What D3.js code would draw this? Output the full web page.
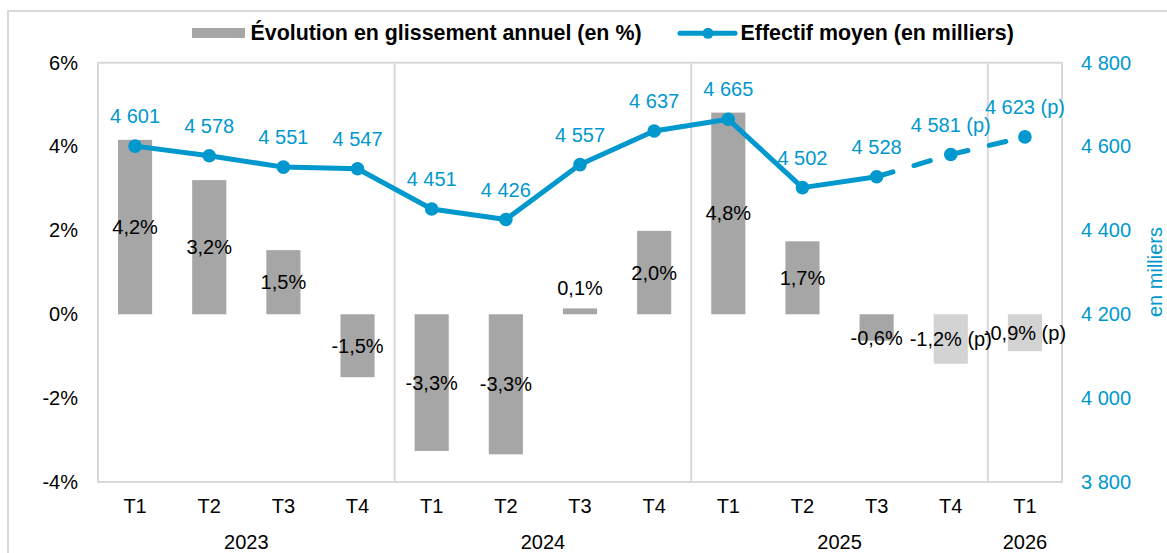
<!DOCTYPE html>
<html>
<head>
<meta charset="utf-8">
<script src="https://cdn.jsdelivr.net/npm/d3@7"></script>
<style>
  html, body { margin: 0; padding: 0; background: #fff; }
  svg { display: block; font-family: "Liberation Sans", Arial, sans-serif; }
</style>
</head>
<body>
<svg id="chart" width="1167" height="553"></svg>
<script>
// ---- Data ----
const quarters = ["T1","T2","T3","T4","T1","T2","T3","T4","T1","T2","T3","T4","T1"];
const years = ["2023","2024","2025","2026"];
const yearSpans = [4, 4, 4, 1];
const evolution = [4.16, 3.20, 1.53, -1.50, -3.26, -3.34, 0.14, 1.99, 4.81, 1.74, -0.63, -1.18, -0.88];
const effectif = [4601, 4578, 4551, 4547, 4451, 4426, 4557, 4637, 4665, 4502, 4528, 4581, 4623];
const provisional = [false,false,false,false,false,false,false,false,false,false,false,true,true];
const leftTicks = [-4, -2, 0, 2, 4, 6];
const rightTicks = [3800, 4000, 4200, 4400, 4600, 4800];
const legendLabels = ["Évolution en glissement annuel (en %)", "Effectif moyen (en milliers)"];
const rightAxisTitle = "en milliers";

// ---- Styles ----
const BLUE = "#0098cd";
const BAR = "#a6a6a6";
const BAR_P = "#d3d3d3";
const GRID = "#d9d9d9";
const FS = 20;

const svg = d3.select("#chart");
const M = { left: 98, right: 1062, top: 62.7, bottom: 482 };

const fr = d3.formatLocale({ decimal: ",", thousands: " ", grouping: [3], currency: ["", " €"], minus: "-" });
const fmtThousands = fr.format(",d");
const fmtPct = v => fr.format(".1f")(v) + "%";

const idx = quarters.map((d, i) => i);
const x = d3.scaleBand().domain(idx).range([M.left, M.right]).padding(0);
const barW = x.bandwidth() * 0.46;
const cx = i => x(i) + x.bandwidth() / 2;
const yL = d3.scaleLinear().domain([-4, 6]).range([M.bottom, M.top]);
const yR = d3.scaleLinear().domain([3800, 4800]).range([M.bottom, M.top]);

// outer frame
svg.append("rect").attr("x", 8).attr("y", 11).attr("width", 1300).attr("height", 700)
  .attr("fill", "none").attr("stroke", GRID).attr("stroke-width", 2);

// plot frame
svg.append("rect").attr("x", M.left).attr("y", M.top)
  .attr("width", M.right - M.left).attr("height", M.bottom - M.top)
  .attr("fill", "none").attr("stroke", GRID).attr("stroke-width", 2);

// year separators
let acc = 0;
yearSpans.forEach((s, k) => {
  acc += s;
  if (k < yearSpans.length - 1) {
    const xs = x(acc);
    svg.append("line").attr("x1", xs).attr("x2", xs).attr("y1", M.top).attr("y2", M.bottom)
      .attr("stroke", GRID).attr("stroke-width", 2);
  }
});

// bars
svg.append("g").selectAll("rect").data(evolution).join("rect")
  .attr("x", (d, i) => cx(i) - barW / 2)
  .attr("width", barW)
  .attr("y", d => yL(Math.max(0, d)))
  .attr("height", d => Math.abs(yL(d) - yL(0)))
  .attr("fill", (d, i) => provisional[i] ? BAR_P : BAR);

// bar labels
svg.append("g").selectAll("text").data(evolution).join("text")
  .attr("x", (d, i) => cx(i))
  .attr("y", d => Math.abs(d) < 0.3 ? yL(Math.max(0, d)) - 13
                 : Math.abs(d) < 0.8 ? yL(0) + 31
                 : (yL(d) + yL(0)) / 2 + 7)
  .attr("text-anchor", "middle")
  .attr("font-size", FS).attr("fill", "#000")
  .text((d, i) => fmtPct(d) + (provisional[i] ? " (p)" : ""));

// line (solid part and dashed provisional part)
const line = d3.line().x(d => cx(d.i)).y(d => yR(d.v));
const pts = effectif.map((v, i) => ({ v, i }));
const firstP = provisional.indexOf(true);
svg.append("path").datum(pts.slice(0, firstP))
  .attr("d", line).attr("fill", "none").attr("stroke", BLUE)
  .attr("stroke-width", 5).attr("stroke-linejoin", "round");
svg.append("path").datum(pts.slice(firstP - 1))
  .attr("d", line).attr("fill", "none").attr("stroke", BLUE)
  .attr("stroke-width", 5).attr("stroke-linecap", "round")
  .attr("stroke-dasharray", "17,22");

svg.append("g").selectAll("circle").data(pts).join("circle")
  .attr("cx", d => cx(d.i)).attr("cy", d => yR(d.v)).attr("r", 6.8).attr("fill", BLUE);

svg.append("g").selectAll("text").data(pts).join("text")
  .attr("x", d => cx(d.i)).attr("y", d => yR(d.v) - 23)
  .attr("text-anchor", "middle").attr("font-size", FS).attr("fill", BLUE)
  .text(d => fmtThousands(d.v) + (provisional[d.i] ? " (p)" : ""));

// left axis
const gL = svg.append("g").attr("transform", `translate(${M.left},0)`)
  .call(d3.axisLeft(yL).tickValues(leftTicks).tickFormat(d => d + "%").tickSize(0).tickPadding(20));
gL.select(".domain").remove();
gL.selectAll("text").attr("font-size", FS).attr("fill", "#000").attr("font-family", null);

// right axis
const gR = svg.append("g").attr("transform", `translate(${M.right},0)`)
  .call(d3.axisRight(yR).tickValues(rightTicks).tickFormat(fmtThousands).tickSize(0).tickPadding(19));
gR.select(".domain").remove();
gR.selectAll("text").attr("font-size", FS).attr("fill", BLUE).attr("font-family", null);

svg.append("text").attr("transform", "translate(1161.5,272) rotate(-90)")
  .attr("text-anchor", "middle").attr("font-size", FS).attr("fill", BLUE).text(rightAxisTitle);

// bottom axis (quarters)
const gB = svg.append("g").attr("transform", `translate(0,${M.bottom})`)
  .call(d3.axisBottom(x).tickFormat(i => quarters[i]).tickSize(0).tickPadding(17));
gB.select(".domain").remove();
gB.selectAll("text").attr("font-size", FS).attr("fill", "#000").attr("font-family", null);

// year labels
acc = 0;
years.forEach((yv, k) => {
  const x0 = x(acc);
  acc += yearSpans[k];
  const x1 = acc < quarters.length ? x(acc) : M.right;
  svg.append("text").attr("x", (x0 + x1) / 2).attr("y", 549)
    .attr("text-anchor", "middle").attr("font-size", FS).attr("fill", "#000").text(yv);
});

// legend
const lg = svg.append("g");
lg.append("rect").attr("x", 192).attr("y", 28).attr("width", 53).attr("height", 10).attr("fill", BAR);
lg.append("text").attr("x", 250.5).attr("y", 40).attr("font-size", 21.4).attr("font-weight", "bold")
  .attr("fill", "#000").text(legendLabels[0]);
lg.append("line").attr("x1", 680).attr("x2", 735).attr("y1", 33.3).attr("y2", 33.3)
  .attr("stroke", BLUE).attr("stroke-width", 5).attr("stroke-linecap", "round");
lg.append("circle").attr("cx", 708).attr("cy", 33.3).attr("r", 5.5).attr("fill", BLUE);
lg.append("text").attr("x", 740.5).attr("y", 40).attr("font-size", 21.4).attr("font-weight", "bold")
  .attr("fill", "#000").text(legendLabels[1]);
</script>
</body>
</html>
